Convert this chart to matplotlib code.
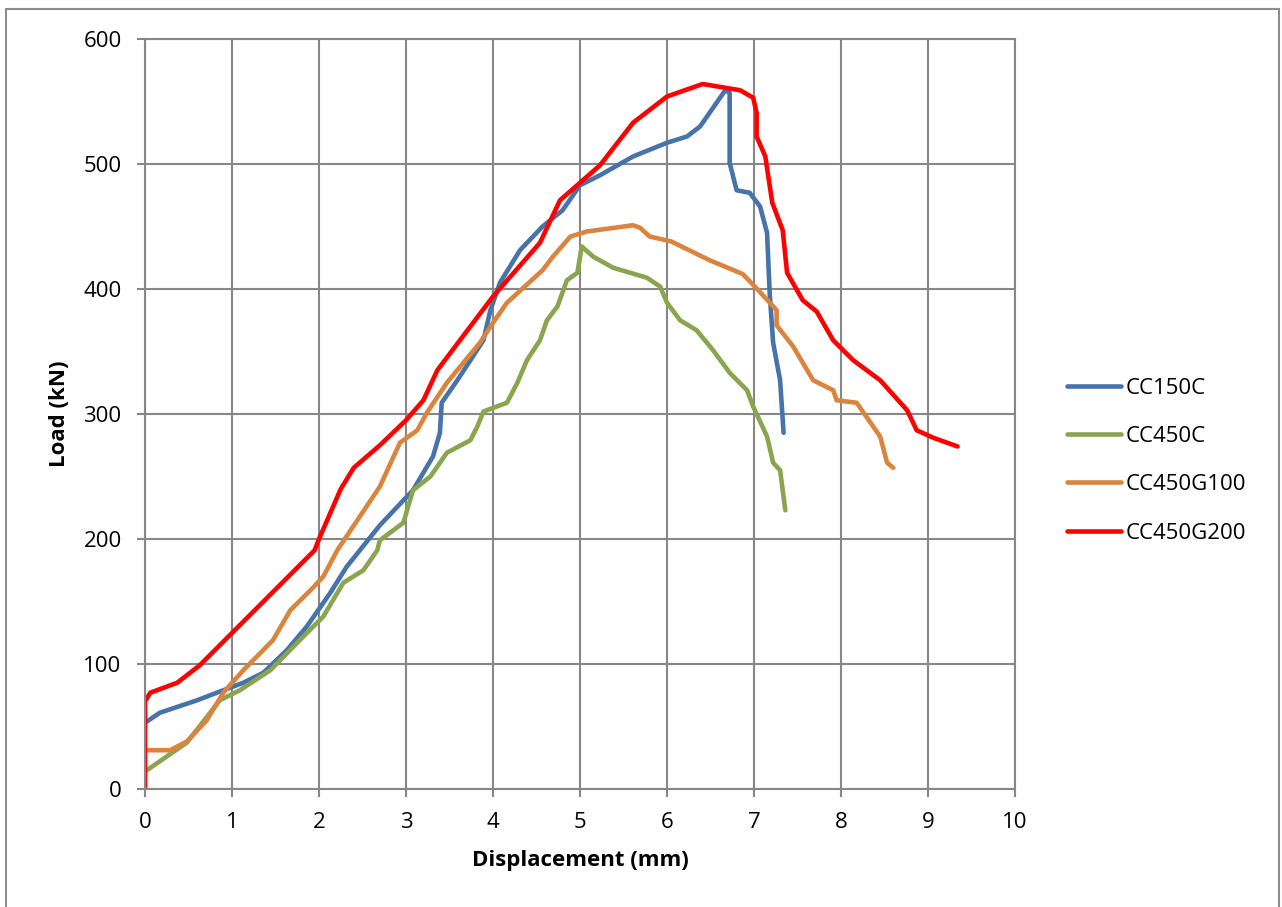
import numpy as np
import matplotlib
matplotlib.use('Agg')
import matplotlib.pyplot as plt
from matplotlib.patches import Rectangle

plt.rcParams['font.family'] = ['Open Sans', 'DejaVu Sans']

# ---- load-displacement curves ----
cc150c_x = [0, 0.17, 0.6, 0.9, 1.13, 1.36, 1.63, 1.86, 2.13, 2.32, 2.47, 2.70, 3.08, 3.31,
            3.39, 3.41, 3.59, 3.89, 3.97, 4.08, 4.31, 4.57, 4.8, 5.0, 5.23, 5.61, 6.0, 6.23,
            6.38, 6.67, 6.72, 6.72, 6.80, 6.95, 7.07, 7.15, 7.18, 7.22, 7.30, 7.34]
cc150c_y = [53, 61, 71, 79, 85, 93, 111, 130, 157, 178, 191, 211, 239, 266,
            285, 309, 327, 359, 383, 405, 431, 450, 463, 483, 491, 506, 517, 522,
            530, 559, 557, 501, 479, 477, 466, 445, 397, 357, 327, 285]

cc450c_x = [0, 0.25, 0.48, 0.86, 1.09, 1.44, 1.82, 2.05, 2.28, 2.51, 2.67, 2.70, 2.97, 3.08,
            3.28, 3.47, 3.74, 3.82, 3.89, 4.16, 4.28, 4.39, 4.54, 4.62, 4.74, 4.85, 4.97,
            5.02, 5.15, 5.38, 5.77, 5.92, 6.0, 6.15, 6.34, 6.53, 6.72, 6.92, 6.99, 7.15,
            7.22, 7.30, 7.36]
cc450c_y = [14, 26, 37, 71, 79, 95, 122, 138, 165, 175, 191, 199, 213, 239,
            250, 269, 279, 290, 302, 309, 325, 343, 359, 375, 386, 407, 413,
            434, 426, 417, 409, 402, 389, 375, 367, 351, 333, 319, 306, 282,
            261, 255, 223]

cc450g100_x = [0, 0.29, 0.48, 0.71, 0.9, 1.13, 1.47, 1.67, 1.93, 2.05, 2.21, 2.70, 2.93, 3.13,
               3.24, 3.47, 3.85, 4.0, 4.16, 4.57, 4.69, 4.89, 5.08, 5.61, 5.69, 5.80, 6.05,
               6.49, 6.87, 7.05, 7.26, 7.26, 7.45, 7.68, 7.91, 7.95, 8.18, 8.37, 8.45,
               8.53, 8.60]
cc450g100_y = [31, 31, 38, 55, 77, 95, 119, 143, 161, 170, 191, 242, 277, 287,
               301, 325, 357, 373, 389, 415, 426, 442, 446, 451, 449, 442, 438,
               423, 412, 399, 383, 371, 354, 327, 319, 311, 309, 290, 282,
               261, 257]

cc450g200_x = [0, 0, 0.06, 0.37, 0.63, 1.95, 2.0, 2.25, 2.4, 2.70, 3.0, 3.2, 3.36, 4.0, 4.54,
               4.77, 5.0, 5.23, 5.61, 6.0, 6.41, 6.84, 6.99, 7.03, 7.03, 7.13, 7.21, 7.33,
               7.38, 7.56, 7.72, 7.91, 8.14, 8.45, 8.76, 8.87, 9.06, 9.34]
cc450g200_y = [0, 70, 77, 85, 99, 191, 200, 240, 257, 275, 295, 311, 335, 394, 437,
               471, 485, 499, 533, 554, 564, 559, 553, 541, 522, 506, 469, 447,
               413, 391, 382, 359, 343, 327, 303, 287, 281, 274]

x_ticks = [0, 1, 2, 3, 4, 5, 6, 7, 8, 9, 10]
y_ticks = [0, 100, 200, 300, 400, 500, 600]

series = [
    ('CC150C', cc150c_x, cc150c_y, '#4673AA'),
    ('CC450C', cc450c_x, cc450c_y, '#89A54E'),
    ('CC450G100', cc450g100_x, cc450g100_y, '#DB843D'),
    ('CC450G200', cc450g200_x, cc450g200_y, '#FF0000'),
]

W, H = 1282, 907
fig = plt.figure(figsize=(W / 100, H / 100), dpi=100)
ax = fig.add_axes([145 / W, 1 - 789 / H, 870 / W, 750 / H])

# chart border (open at the bottom edge)
fig.patches.append(Rectangle((6 / W, -0.05), 1273 / W, 1.05 - 9 / H,
                             transform=fig.transFigure, fill=False,
                             edgecolor='#8C8C8C', lw=1.5))

for name, xs, ys, col in series:
    ax.plot(xs, ys, color=col, lw=3.3, label=name, solid_capstyle='round',
            solid_joinstyle='round')

ax.set_xlim(0, 10)
ax.set_ylim(0, 600)
ax.set_xticks(x_ticks)
ax.set_yticks(y_ticks)
ax.grid(True, color='#878787', lw=1.5)
ax.set_axisbelow(True)
for sp in ax.spines.values():
    sp.set_color('#878787')
    sp.set_linewidth(1.5)
ax.tick_params(colors='#878787', labelcolor='black', labelsize=16, width=1.5,
               length=5.8, pad=11)

ax.set_xlabel('Displacement (mm)', fontsize=16, fontweight='bold')
ax.set_ylabel('Load (kN)', fontsize=16, fontweight='bold')
ax.xaxis.set_label_coords(0.5, -0.081)
ax.yaxis.set_label_coords(-0.086, 0.5)

ax.legend(loc='center left', bbox_to_anchor=(1.06, 0.438), frameon=False,
          fontsize=16, handlelength=2.4, labelspacing=1.23, handletextpad=0.22,
          borderpad=0, borderaxespad=0)

fig.savefig('out.png', dpi=100)
